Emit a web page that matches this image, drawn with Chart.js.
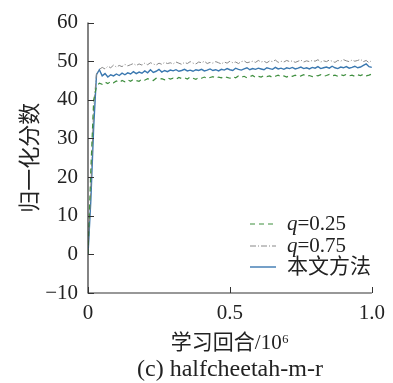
<!DOCTYPE html>
<html>
<head>
<meta charset="utf-8">
<script src="https://cdn.jsdelivr.net/npm/chart.js@4.4.0/dist/chart.umd.min.js"></script>
<style>
  html, body { margin: 0; padding: 0; background: #fff; }
  #wrap { width: 393px; height: 383px; }
</style>
</head>
<body>
<div id="wrap"><canvas id="myChart" width="393" height="383"></canvas></div>
<script>
// training episodes (x 10^6), one point every 0.01
const episodes = Array.from({ length: 101 }, (_, i) => +(i * 0.01).toFixed(2));

const q025 = [0, 22, 40, 43.5, 44.3, 44.0, 44.6, 44.2, 44.8, 44.4,
  44.9, 44.5, 45.0, 44.7, 45.2, 44.8, 45.3, 45.0, 44.8, 45.4,
  45.1, 45.5, 45.2, 45.0, 45.6, 45.3, 45.5, 45.2, 45.7, 45.4,
  45.6, 45.3, 45.8, 45.5, 45.7, 45.4, 45.9, 45.6, 45.3, 45.8,
  45.6, 45.9, 45.5, 45.8, 46.0, 45.6, 45.9, 45.7, 46.1, 45.8,
  45.6, 46.0, 45.7, 46.2, 45.9, 46.1, 45.7, 46.0, 46.3, 45.8,
  46.1, 45.9, 46.3, 46.0, 46.2, 45.8, 46.1, 46.4, 46.0, 46.2,
  45.9, 46.3, 46.1, 46.4, 46.0, 46.2, 46.5, 46.1, 46.3, 46.0,
  46.4, 46.2, 46.5, 46.1, 46.3, 46.6, 46.2, 46.4, 46.1, 46.5,
  46.3, 46.6, 46.2, 46.4, 46.1, 46.5, 46.3, 46.6, 46.2, 46.4, 46.7];

const q075 = [0, 17, 38, 46.8, 47.9, 48.4, 48.0, 48.7, 48.3, 49.0,
  48.5, 48.9, 48.6, 49.2, 48.8, 49.1, 49.4, 48.9, 49.3, 49.0,
  49.5, 49.1, 49.6, 49.3, 49.0, 49.5, 49.2, 49.7, 49.4, 49.6,
  49.3, 49.8, 49.5, 49.2, 49.7, 49.4, 49.9, 49.5, 49.3, 49.8,
  49.6, 50.0, 49.4, 49.7, 49.5, 49.9, 49.6, 49.3, 49.8, 49.5,
  50.0, 49.6, 49.8, 49.4, 49.9, 50.1, 49.6, 49.8, 50.0, 49.7,
  50.2, 49.8, 50.0, 49.6, 50.1, 49.9, 50.3, 49.7, 50.0, 49.8,
  50.2, 49.9, 50.1, 49.7, 50.0, 50.3, 49.8, 50.1, 49.9, 50.2,
  50.0, 50.4, 49.8, 50.1, 49.9, 50.3, 50.0, 49.7, 50.2, 50.0,
  50.4, 50.1, 49.9, 50.3, 50.0, 50.2, 50.5, 49.9, 50.2, 49.6, 50.3];

const ours = [0, 14, 33, 46.5, 47.8, 46.2, 46.8, 45.9, 46.5, 46.2,
  46.7, 46.3, 46.9, 46.5, 47.0, 46.7, 47.3, 46.8, 47.2, 46.9,
  47.5, 47.0, 47.8, 47.1, 47.4, 47.9, 47.2, 47.6, 47.3, 47.7,
  47.5, 47.8, 47.4, 47.6, 47.9, 47.5, 47.7, 47.4, 47.8, 47.6,
  47.9, 47.5, 47.7, 48.0, 47.6, 47.8, 47.5, 47.9, 47.7, 48.1,
  47.8, 47.6, 48.2, 47.9, 47.7, 48.0, 48.3, 47.8, 48.1, 47.9,
  48.2, 48.0, 47.8, 48.3, 48.1, 47.9, 48.4, 48.0, 48.2, 47.9,
  48.3, 48.1, 48.4, 48.0, 48.2, 48.5, 48.1, 48.3, 48.0, 48.4,
  48.2, 48.6, 48.1, 48.3, 48.5, 48.2, 48.7, 48.3, 48.1, 48.5,
  48.3, 48.6, 48.2, 48.4, 48.7, 48.3, 48.5, 48.9, 49.3, 48.6, 48.4];

const seriesNames = ['q=0.25', 'q=0.75', '本文方法'];
const xTicks = [0, 0.5, 1.0];
const yTicks = [-10, 0, 10, 20, 30, 40, 50, 60];

const serif = '"Liberation Serif", "Times New Roman", serif';
const cjk = '"Liberation Serif", "Noto Sans CJK SC", serif';

function pts(ys) {
  return ys.map((y, i) => ({ x: episodes[i], y: y }));
}

// axes with inward ticks, titles, caption and legend
const decor = {
  id: 'decor',
  afterDraw(chart) {
    const c = chart.ctx;
    const xs = chart.scales.x, ys = chart.scales.y;
    const a = chart.chartArea;
    c.save();
    c.strokeStyle = '#333';
    c.lineWidth = 1.2;
    c.beginPath();
    c.moveTo(a.left, a.top);
    c.lineTo(a.left, a.bottom);
    c.lineTo(a.right, a.bottom);
    c.stroke();
    c.lineWidth = 1;
    yTicks.forEach(v => {
      const y = Math.round(ys.getPixelForValue(v)) + 0.5;
      c.beginPath(); c.moveTo(a.left, y); c.lineTo(a.left + 6, y); c.stroke();
    });
    xTicks.forEach(v => {
      const x = Math.round(xs.getPixelForValue(v)) + 0.5;
      c.beginPath(); c.moveTo(x, a.bottom); c.lineTo(x, a.bottom - 6); c.stroke();
    });

    c.fillStyle = '#222';
    c.textAlign = 'center';
    c.textBaseline = 'middle';
    const cx = xs.getPixelForValue(0.5);
    c.font = '21px ' + cjk;
    c.fillText('学习回合/10⁶', cx, 343);
    c.font = '24px ' + serif;
    c.fillText('(c) halfcheetah-m-r', cx, 370);

    c.save();
    c.translate(31, (a.top + a.bottom) / 2);
    c.rotate(-Math.PI / 2);
    c.font = '22px ' + cjk;
    c.fillText('归一化分数', 0, 0);
    c.restore();

    // legend
    const rows = [224, 246, 267];
    chart.data.datasets.forEach((ds, i) => {
      const y = rows[i];
      c.strokeStyle = ds.borderColor;
      c.lineWidth = ds.borderWidth;
      c.setLineDash(ds.borderDash || []);
      c.beginPath(); c.moveTo(250, y); c.lineTo(276, y); c.stroke();
      c.setLineDash([]);
      c.textAlign = 'left';
      c.fillStyle = '#222';
      const name = ds.label;
      if (name.startsWith('q')) {
        c.font = 'italic 21px ' + serif;
        c.fillText('q', 287, y);
        const w = c.measureText('q').width;
        c.font = '21px ' + serif;
        c.fillText(name.slice(1), 287 + w, y);
      } else {
        c.font = '21px ' + cjk;
        c.fillText(name, 287, y);
      }
    });
    c.restore();
  }
};

const ctx = document.getElementById('myChart');

new Chart(ctx, {
  type: 'line',
  data: {
    datasets: [
      { label: seriesNames[0], data: pts(q025), borderColor: '#3f8f3f', borderWidth: 1.2, borderDash: [5, 4] },
      { label: seriesNames[1], data: pts(q075), borderColor: '#888888', borderWidth: 1, borderDash: [6, 2, 1, 2] },
      { label: seriesNames[2], data: pts(ours), borderColor: '#3a78b0', borderWidth: 1.4 }
    ]
  },
  options: {
    responsive: false,
    animation: false,
    layout: { padding: { top: 22, right: 19, left: 0, bottom: 0 } },
    elements: { point: { radius: 0 }, line: { tension: 0 } },
    plugins: { legend: { display: false }, tooltip: { enabled: false } },
    scales: {
      x: {
        type: 'linear', min: 0, max: 1,
        afterFit: s => { s.height = 90; },
        afterBuildTicks: s => { s.ticks = xTicks.map(v => ({ value: v })); },
        grid: { display: false, drawTicks: false },
        border: { display: false },
        ticks: {
          color: '#222', padding: 8, maxRotation: 0,
          font: { family: serif, size: 21 },
          callback: v => (v === 0 ? '0' : v.toFixed(1))
        }
      },
      y: {
        min: -10, max: 60,
        afterFit: s => { s.width = 88; },
        afterBuildTicks: s => { s.ticks = yTicks.map(v => ({ value: v })); },
        grid: { display: false, drawTicks: false },
        border: { display: false },
        ticks: {
          color: '#222', padding: 10,
          font: { family: serif, size: 21 },
          callback: v => (v < 0 ? '\u221210' : String(v))
        }
      }
    }
  },
  plugins: [decor]
});
</script>
</body>
</html>
